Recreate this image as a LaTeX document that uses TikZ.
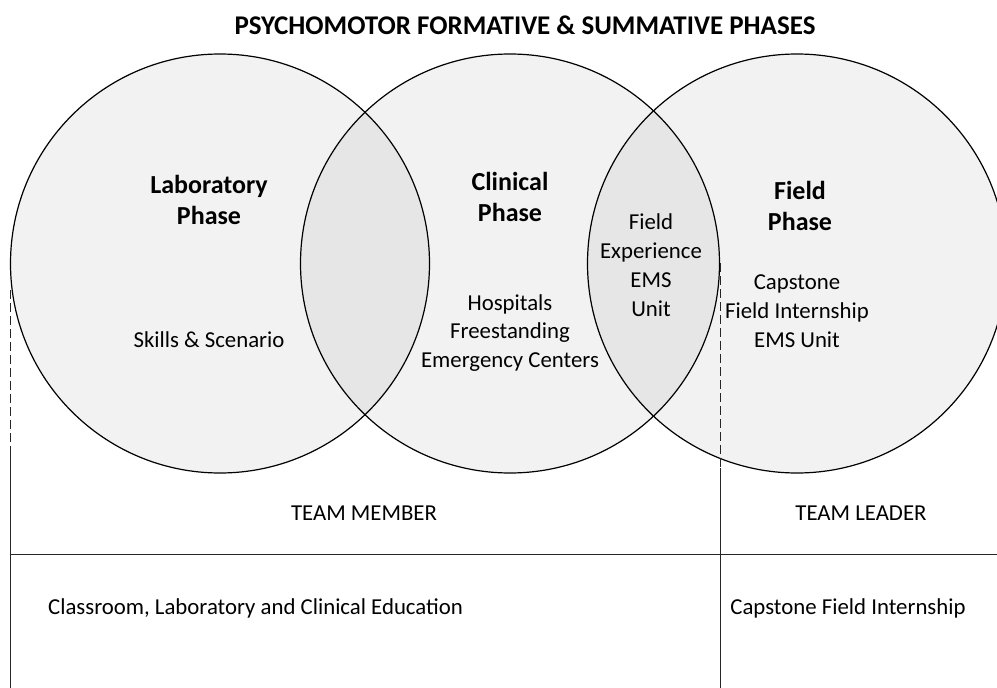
\documentclass[tikz,border=0pt]{standalone}
\usepackage{fontspec}
\setmainfont{Carlito}
\begin{document}
\begin{tikzpicture}[x=1pt,y=-1pt,
  phase/.style={circle, draw=black, line width=1.2pt, fill=black, fill opacity=0.05, text opacity=1, minimum size=419pt, inner sep=0pt},
  head/.style={align=center, font=\fontsize{26}{31}\selectfont\bfseries},
  body/.style={align=center, font=\fontsize{22.8}{28.8}\selectfont},
  rule/.style={line width=0.9pt, draw=black!85},
  dashrule/.style={line width=0.9pt, draw=black!85, dash pattern=on 9pt off 4pt}]
\useasboundingbox (0,0) rectangle (997,688);
\clip (0,0) rectangle (997,688);
\node[font=\fontsize{27}{30}\selectfont\bfseries] (title) at (525,25) {PSYCHOMOTOR FORMATIVE \& SUMMATIVE PHASES};
\node[phase] (c1) at (220,263.5) {};
\node[phase] (c2) at (510,263.5) {};
\node[phase] (c3) at (797,263.5) {};
\node[head] (lab) at (209,200) {Laboratory\\Phase};
\node[head] (cli) at (510,197) {Clinical\\Phase};
\node[head] (fld) at (800,206) {Field\\Phase};
\node[body] (skills) at (209,340) {Skills \& Scenario};
\node[body] (hosp) at (510,333) {Hospitals\\Freestanding\\Emergency Centers};
\node[body] (fexp) at (651,265) {Field\\Experience\\EMS\\Unit};
\node[body] (cap) at (797,311) {Capstone\\Field Internship\\EMS Unit};
\node[body] (tm) at (364,513) {TEAM MEMBER};
\node[body] (tl) at (861,513) {TEAM LEADER};
\node[body, anchor=west, inner sep=0pt] (cls) at (48,608) {Classroom, Laboratory and Clinical Education};
\node[body] (cfi) at (848,608) {Capstone Field Internship};
\coordinate (la) at (10,290);
\coordinate (lb) at (10,452);
\coordinate (lc) at (10,688);
\coordinate (ra) at (720.5,263);
\coordinate (rb) at (720.5,468);
\coordinate (rc) at (720.5,688);
\coordinate (ha) at (10,554);
\coordinate (hb) at (997,554);
\draw[dashrule] (la) -- (lb);
\draw[rule] (lb) -- (lc);
\draw[dashrule] (ra) -- (rb);
\draw[rule] (rb) -- (rc);
\draw[rule] (ha) -- (hb);
\end{tikzpicture}
\end{document}
